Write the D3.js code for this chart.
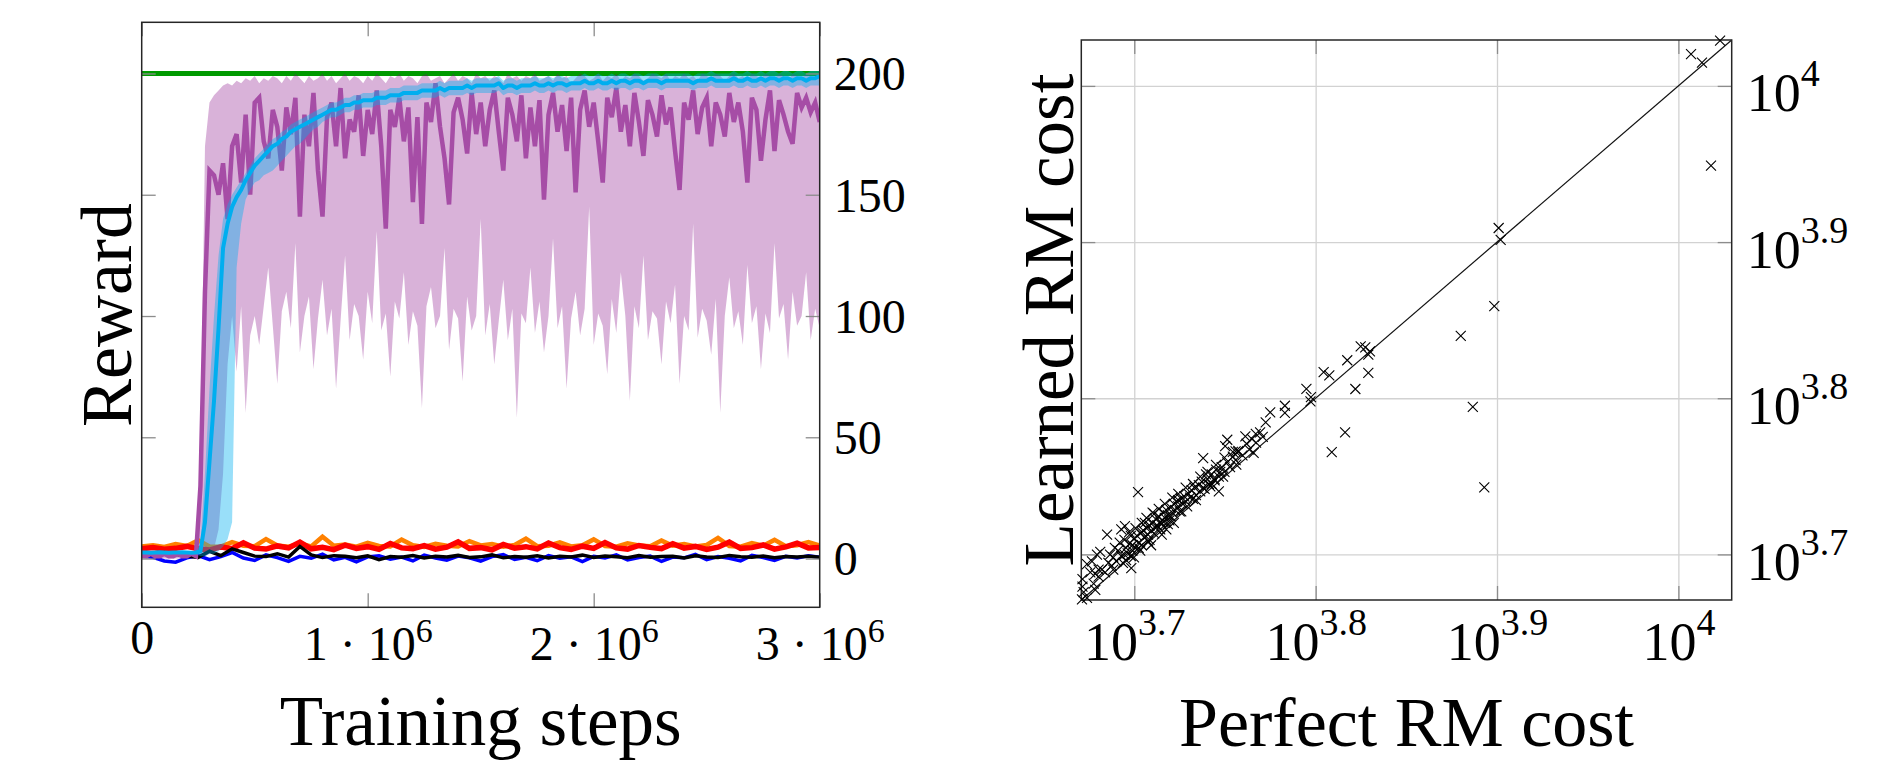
<!DOCTYPE html>
<html>
<head>
<meta charset="utf-8">
<script src="https://cdn.jsdelivr.net/npm/d3@7"></script>
<style>
  body { margin: 0; background: #fff; }
  svg { display: block; }
  text { font-family: "Liberation Serif", "Times New Roman", serif; fill: #000; }
</style>
</head>
<body>
<svg id="fig" width="1904" height="763"></svg>
<script>
// ---------------- Reward curves (sampled every 20 000 steps, 0 .. 3e6) ----------------
const rmMean = [
  1, 1, 2, 1, 1, 2, 1, 1, 2, 1,
  1, 2, 1, 30, 110, 160, 158, 150, 163, 140,
  170, 175, 155, 183, 150, 188, 190, 172, 165, 185,
  178, 160, 186, 175, 190, 141, 183, 170, 192, 160,
  141, 182, 188, 170, 194, 165, 181, 176, 191, 166,
  185, 175, 193, 170, 136, 185, 178, 190, 172, 186,
  147, 182, 138, 188, 180, 196, 178, 165, 146, 184,
  190, 181, 167, 192, 175, 188, 170, 185, 193, 176,
  160, 190, 183, 172, 191, 165, 186, 170, 189, 148,
  183, 192, 176, 187, 168, 190, 151, 185, 193, 178,
  188, 172, 155, 190, 182, 194, 176, 187, 170, 192,
  180, 166, 189, 183, 174, 191, 179, 186, 168, 152,
  188, 181, 193, 175, 186, 190, 170, 188, 183, 174,
  192, 180, 188, 176, 155, 190, 185, 164, 181, 193,
  168, 189, 183, 176, 171, 192, 186, 190, 184, 188,
  180
];
const rmHigh = [
  3, 3, 3, 3, 3, 3, 3, 3, 3, 3,
  3, 3, 3, 40, 170, 188, 191, 193, 195, 196,
  195, 197, 196, 198, 197, 199, 196, 198, 197, 199,
  198, 196, 199, 197, 200, 198, 196, 199, 197, 198,
  200, 197, 199, 196, 198, 200, 197, 199, 198, 196,
  199, 197, 200, 198, 196, 199, 198, 200, 197, 199,
  198, 196, 199, 200, 197, 198, 199, 196, 198, 200,
  197, 199, 198, 196, 200, 198, 199, 197, 199, 198,
  196, 200, 198, 199, 197, 199, 198, 200, 197, 198,
  199, 197, 200, 198, 199, 196, 198, 200, 199, 197,
  198, 200, 197, 199, 198, 200, 197, 199, 198, 200,
  199, 197, 198, 200, 199, 198, 200, 197, 199, 198,
  200, 198, 199, 197, 200, 199, 198, 200, 199, 197,
  199, 200, 198, 199, 197, 200, 199, 198, 200, 199,
  198, 200, 199, 197, 200, 199, 198, 200, 199, 198,
  199
];
const rmLow = [
  0, 0, 0, 0, 0, 0, 0, 0, 0, 0,
  0, 0, 0, 0, 1, 2, 4, 12, 35, 80,
  100, 77, 104, 60, 92, 100, 88, 104, 120, 96,
  72, 102, 110, 95, 130, 85, 100, 108, 78, 99,
  115, 92, 103, 70, 98, 125, 90, 105, 100, 82,
  110, 97, 135, 94, 101, 75, 106, 99, 118, 88,
  102, 96, 62, 104, 112, 95, 100, 128, 86, 103,
  99, 73, 108, 94, 100, 140, 92, 105, 80, 98,
  115, 90, 103, 58, 101, 97, 120, 93, 106, 85,
  100, 132, 95, 104, 70, 99, 110, 92, 103, 145,
  88, 101, 96, 76, 107, 93, 118, 100, 65, 104,
  95, 125, 90, 102, 99, 80, 106, 97, 113, 72,
  100, 94, 138, 91, 103, 98, 84, 107, 60, 100,
  116, 95, 102, 88, 121, 97, 104, 78, 101, 93,
  130, 99, 105, 82, 110, 96, 100, 118, 90, 103,
  95
];
const learnedMean = [
  2.5, 2.5, 2.4, 2.5, 2.6, 2.5, 2.4, 2.5, 2.5, 2.6,
  2.5, 2.4, 2.5, 3, 15, 40, 65, 95, 128, 138,
  145, 149, 152, 156, 159, 162, 164, 166, 168, 170,
  171, 173, 174, 176, 177, 178, 179, 180, 181, 182,
  183, 184, 185, 185, 186, 187, 187, 188, 188, 189,
  189, 189, 190, 190, 190, 191, 191, 191, 192, 192,
  192, 192, 193, 193, 193, 193, 194, 193, 194, 194,
  194, 194, 195, 194, 195, 195, 195, 195, 195, 196,
  194, 195, 195, 194, 195, 195, 195, 196, 195, 195,
  196, 195, 196, 196, 195, 196, 196, 196, 197, 196,
  196, 197, 196, 196, 197, 196, 197, 197, 196, 197,
  197, 196, 197, 197, 197, 196, 197, 197, 197, 197,
  197, 197, 196, 197, 197, 197, 198, 197, 197, 197,
  197, 198, 197, 197, 198, 197, 197, 198, 197, 198,
  198, 197, 198, 198, 197, 198, 198, 197, 198, 198,
  199
];
const learnedHigh = [
  3, 3, 3, 3, 3, 3, 3, 3, 3, 3,
  3, 3, 3, 6, 35, 70, 100, 125, 140, 146,
  150, 153, 156, 159, 162, 165, 167, 169, 171, 173,
  174, 176, 177, 179, 180, 181, 182, 183, 184, 185,
  186, 187, 188, 188, 189, 190, 190, 191, 191, 192,
  192, 192, 193, 193, 193, 194, 194, 194, 195, 195,
  195, 195, 196, 196, 196, 196, 197, 196, 197, 197,
  197, 197, 198, 197, 198, 198, 198, 198, 198, 199,
  197, 198, 198, 197, 198, 198, 198, 199, 198, 198,
  199, 198, 199, 199, 198, 199, 199, 199, 200, 199,
  199, 200, 199, 199, 200, 199, 200, 200, 199, 200,
  200, 199, 200, 200, 200, 199, 200, 200, 200, 200,
  200, 200, 199, 200, 200, 200, 201, 200, 200, 200,
  200, 201, 200, 200, 201, 200, 200, 201, 200, 201,
  201, 200, 201, 201, 200, 201, 201, 200, 201, 201,
  201
];
const learnedLow = [
  2, 2, 2, 2, 2, 2, 2, 2, 2, 2,
  2, 2, 2, 1, 1, 2, 2, 3, 5, 8,
  15, 120, 138, 148, 152, 155, 156, 158, 159, 160,
  162, 164, 166, 168, 170, 171, 173, 175, 177, 178,
  180, 181, 182, 182, 183, 184, 184, 185, 185, 186,
  186, 186, 187, 187, 187, 188, 188, 188, 189, 189,
  189, 189, 190, 190, 190, 190, 191, 190, 191, 191,
  191, 191, 192, 191, 192, 192, 192, 192, 192, 193,
  191, 192, 192, 191, 192, 192, 192, 193, 192, 192,
  193, 192, 193, 193, 192, 193, 193, 193, 194, 193,
  193, 194, 193, 193, 194, 193, 194, 194, 193, 194,
  194, 193, 194, 194, 194, 193, 194, 194, 194, 194,
  194, 194, 193, 194, 194, 194, 195, 194, 194, 194,
  194, 195, 194, 194, 195, 194, 194, 195, 194, 195,
  195, 194, 195, 195, 194, 195, 195, 194, 195, 195,
  195
];

// Baselines that never learn (sampled every 50 000 steps)
const redReward = [
  4, 4.5, 3.8, 4.2, 5, 4, 3.5, 4.8, 4.1, 6.5,
  4.3, 3.9, 5.2, 4.4, 6.8, 4, 4.6, 3.7, 5.5, 4.2,
  4.9, 3.8, 6.2, 4.4, 4.1, 5.3, 3.9, 4.7, 6.9, 4.2,
  4.5, 3.6, 5.8, 4.3, 4.9, 4, 6.4, 4.5, 3.8, 5.1,
  4.2, 6.6, 4.4, 3.9, 5.4, 4.6, 4.1, 6.1, 4.3, 5,
  3.8, 4.7, 6.8, 4.2, 4.5, 5.6, 3.9, 4.8, 6.3, 4.4, 4.6
];
const orangeReward = [
  5, 5.5, 4.8, 6, 5.2, 7.5, 5, 4.9, 6.8, 5.3,
  5.1, 8, 5.4, 4.9, 6.2, 5, 9, 5.3, 5.8, 4.9,
  6.5, 5.2, 5, 7.8, 5.5, 4.8, 6.1, 5.3, 5, 7.2,
  5.4, 6, 4.9, 5.6, 8.2, 5.1, 5.3, 6.7, 5, 5.5,
  7.9, 5.2, 4.9, 6.3, 5.4, 5.1, 7.4, 5.3, 6, 5,
  5.6, 8.5, 5.2, 4.9, 6.4, 5.3, 7.7, 5.1, 5.5, 6.8, 5.4
];
const blueReward = [
  1, 0.5, -1, -1.5, 0.3, 1.2, -0.5, 0.8, 2.5, 0.2,
  -0.8, 1.5, 0.4, -1.2, 0.9, 0.1, 1.8, -0.6, 0.5, -1.4,
  0.7, 1.1, -0.3, 0.6, -1, 1.4, 0.2, -0.7, 1, 0.3,
  -1.1, 0.8, 1.6, -0.4, 0.5, -0.9, 1.2, 0.1, 0.7, -1.3,
  0.9, 0.2, 1.5, -0.6, 0.4, 1, -1.2, 0.6, 0.3, 1.7,
  -0.5, 0.8, 0.1, -1, 1.3, 0.4, -0.8, 0.9, 0.2, 1.1, 0.5
];
const blackReward = [
  2, 1.5, 2.5, 1.8, 1, 0.5, 3, 1.2, 4, 2.5,
  1, 0.8, 2, 0.6, 5, 1.5, 0.4, 1.2, 0.9, 0.3,
  1.1, -0.5, 0.8, 0.5, 1.2, 0.2, 0.9, 0.6, 1.3, 0.4,
  0.7, 1.5, 0.3, 0.8, 0.5, 1.1, 0.2, 0.9, 0.6, 1.4,
  0.4, 1, 0.7, 0.3, 1.2, 0.5, 0.8, 0.9, 0.2, 1.1,
  0.6, 0.4, 1.3, 0.7, 0.5, 1, 0.3, 0.8, 0.6, 0.9, 0.5
];
const optimalSteps = [0, 3000000];
const optimalReward = [200, 200];

const stepTicks = [0, 1000000, 2000000, 3000000];
const rewardTicks = [0, 50, 100, 150, 200];

// ---------------- Cost comparison ----------------
const perfectCost = [
  10544, 10162, 10304, 10423, 7960, 7980, 7916, 7586, 7703, 7816,
  6550, 6440, 6636, 6746, 6746, 6681, 6720, 6760, 6568, 6374,
  6420, 6236, 6272, 6268, 6068, 6068, 5956, 5922, 5848, 5771,
  5832, 5640, 5625, 5700, 5720, 5470, 5705, 5590, 5550, 5490,
  5530, 5580, 5470, 5036, 4842, 4953, 4930, 4780, 4750, 4720,
  4800, 4790, 4770, 4740, 4693, 4693, 4770, 4993, 4700, 4720,
  4690, 4760, 4790, 4810, 4830, 4850, 4870, 4880, 4900, 4910,
  4930, 4940, 4960, 4970, 4980, 4990, 5000, 5010, 5020, 5030,
  5040, 5050, 5060, 5070, 5080, 5090, 5100, 5110, 5120, 5130,
  5140, 5150, 5160, 5170, 5180, 5190, 5200, 5210, 5220, 5230,
  5240, 5250, 5260, 5270, 5280, 5290, 5300, 5310, 5320, 5330,
  5340, 5350, 5360, 5370, 5380, 5390, 5400, 5410, 5420, 5440,
  5450, 5460, 5480, 5500, 5510, 5530, 5550, 5560, 5580, 5600,
  5620, 5640, 5660, 5680, 5700, 5720, 5750, 5780, 5800, 5820,
  5850, 5880, 5900, 4990, 5010, 5050, 5080, 5120, 5140, 5190,
  5220, 5270, 5060, 5100, 5150, 5200, 5250, 5300, 5000, 4950,
  4860, 4890, 4920, 4950, 4980, 5020, 5060, 5090, 5130, 5170,
  5210, 5260, 5300, 5350, 5400, 5450, 5500, 5560, 5620, 5680,
  4880, 4960, 5040, 5110, 5180, 5230, 5320, 5420, 5520, 5610
];
const learnedCost = [
  10690, 10480, 10350, 8892, 8110, 7970, 7228, 6918, 6230, 5533,
  6000, 5827, 6396, 6550, 6728, 6812, 6800, 6760, 6673, 6557,
  6525, 6398, 6320, 6280, 6240, 6174, 6180, 6088, 5987, 5965,
  5822, 5935, 5880, 5835, 5838, 5776, 5722, 5660, 5600, 5640,
  5560, 5500, 5530, 5494, 5160, 5225, 5200, 5010, 4960, 4940,
  5030, 4900, 4870, 4880, 4832, 4780, 4757, 4911, 4740, 4700,
  4690, 4800, 4850, 4900, 4880, 4950, 4930, 4990, 4960, 5040,
  5000, 4950, 5060, 5020, 5090, 5000, 5080, 5130, 5060, 5150,
  5100, 5170, 5080, 5190, 5140, 5210, 5160, 5230, 5190, 5250,
  5170, 5280, 5230, 5300, 5260, 5240, 5330, 5290, 5350, 5310,
  5270, 5370, 5330, 5400, 5350, 5420, 5380, 5340, 5440, 5400,
  5460, 5420, 5380, 5480, 5450, 5510, 5440, 5530, 5470, 5550,
  5500, 5580, 5520, 5600, 5560, 5640, 5590, 5680, 5620, 5700,
  5660, 5740, 5700, 5790, 5760, 5830, 5800, 5900, 5850, 5940,
  5910, 6000, 5960, 5150, 4990, 5040, 5250, 5080, 5320, 5160,
  5200, 5250, 5180, 5110, 5210, 5260, 5300, 5430, 5040, 5010,
  5010, 5060, 5100, 5120, 5180, 5210, 5250, 5290, 5330, 5360,
  5400, 5450, 5480, 5530, 5560, 5620, 5660, 5720, 5780, 5830,
  4900, 4970, 5060, 5120, 5200, 5240, 5340, 5430, 5540, 5620
];
const costTickExponents = ["3.7", "3.8", "3.9", "4"];

// ======================================================================
const svg = d3.select("#fig");
const defs = svg.append("defs");
const TICK = 14;

// ---------------- left panel: reward over training ----------------
const L = { left: 141.7, right: 819.7, top: 22.3, bottom: 607.3 };
const xL = d3.scaleLinear().domain([0, 3e6]).range([L.left, L.right]);
const yL = d3.scaleLinear().domain([-20.1, 221.1]).range([L.bottom, L.top]);

defs.append("clipPath").attr("id", "clipL").append("rect")
  .attr("x", L.left).attr("y", L.top)
  .attr("width", L.right - L.left).attr("height", L.bottom - L.top);

const fineSteps = d3.range(0, 3000001, 20000);
const coarseSteps = d3.range(0, 3000001, 50000);

const plotL = svg.append("g").attr("clip-path", "url(#clipL)");

const lineOn = steps => d3.line().x((d, i) => xL(steps[i])).y(d => yL(d));
const bandOn = steps => d3.area().x((d, i) => xL(steps[i]))
  .y0(d => yL(d[0])).y1(d => yL(d[1]));

// optimal reward
plotL.append("path").datum(optimalReward)
  .attr("d", lineOn(optimalSteps))
  .attr("fill", "none").attr("stroke", "#009a00").attr("stroke-width", 5);

// reward-machine agent: band then mean
plotL.append("path").datum(d3.zip(rmLow, rmHigh))
  .attr("d", bandOn(fineSteps))
  .attr("fill", "#800080").attr("fill-opacity", 0.3).attr("stroke", "none");

// non-learning baselines
const baselines = [
  { values: orangeReward, color: "#ff8000", width: 4.5 },
  { values: redReward, color: "#ff0000", width: 5.5 },
  { values: blueReward, color: "#0000ff", width: 3.5 },
  { values: blackReward, color: "#000000", width: 3.5 }
];
baselines.forEach(b => {
  plotL.append("path").datum(b.values)
    .attr("d", lineOn(coarseSteps))
    .attr("fill", "none").attr("stroke", b.color)
    .attr("stroke-width", b.width).attr("stroke-linejoin", "miter");
});

plotL.append("path").datum(rmMean)
  .attr("d", lineOn(fineSteps))
  .attr("fill", "none").attr("stroke", "#a64da6")
  .attr("stroke-width", 4.5).attr("stroke-linejoin", "miter");

// learned reward machine agent
plotL.append("path").datum(d3.zip(learnedLow, learnedHigh))
  .attr("d", bandOn(fineSteps))
  .attr("fill", "#00aeef").attr("fill-opacity", 0.4).attr("stroke", "none");
plotL.append("path").datum(learnedMean)
  .attr("d", lineOn(fineSteps))
  .attr("fill", "none").attr("stroke", "#00aeef")
  .attr("stroke-width", 4).attr("stroke-linejoin", "round");

// tick marks (inward on all four sides)
const tickColor = "#8c8c8c";
function styleTicks(g) {
  g.select(".domain").remove();
  g.attr("color", tickColor).selectAll("line").attr("stroke-width", 1.3);
  g.selectAll("text").remove();
}
svg.append("g").attr("transform", `translate(0,${L.bottom})`)
  .call(d3.axisBottom(xL).tickValues(stepTicks).tickSize(-TICK)).call(styleTicks);
svg.append("g").attr("transform", `translate(0,${L.top})`)
  .call(d3.axisTop(xL).tickValues(stepTicks).tickSize(-TICK)).call(styleTicks);
svg.append("g").attr("transform", `translate(${L.left},0)`)
  .call(d3.axisLeft(yL).tickValues(rewardTicks).tickSize(-TICK)).call(styleTicks);
svg.append("g").attr("transform", `translate(${L.right},0)`)
  .call(d3.axisRight(yL).tickValues(rewardTicks).tickSize(-TICK)).call(styleTicks);

// frame
svg.append("rect").attr("x", L.left).attr("y", L.top)
  .attr("width", L.right - L.left).attr("height", L.bottom - L.top)
  .attr("fill", "none").attr("stroke", "#262626").attr("stroke-width", 1.5);

// tick labels
const yLabAxis = svg.append("g").attr("transform", `translate(${L.right},0)`)
  .call(d3.axisRight(yL).tickValues(rewardTicks).tickSize(0).tickPadding(14));
yLabAxis.select(".domain").remove();
yLabAxis.selectAll("text")
  .attr("font-family", "Liberation Serif, serif").attr("font-size", 48)
  .attr("dy", "0.34em").attr("fill", "#000");

function powerText(sel, lead, exp, supSize, raise) {
  sel.text(null);
  sel.append("tspan").text(lead);
  if (exp) sel.append("tspan").attr("font-size", supSize).attr("dy", -raise).text(exp);
}

const xLabAxis = svg.append("g").attr("transform", `translate(0,${L.bottom})`)
  .call(d3.axisBottom(xL).tickValues(stepTicks).tickSize(0));
xLabAxis.select(".domain").remove();
xLabAxis.selectAll("text")
  .attr("font-family", "Liberation Serif, serif").attr("font-size", 48)
  .attr("fill", "#000").attr("dy", null)
  .attr("y", d => d === 0 ? 47 : 53)
  .each(function (d) {
    const m = d / 1e6;
    if (m === 0) powerText(d3.select(this), "0", null);
    else powerText(d3.select(this), `${m} · 10`, "6", 34, 18);
  });

svg.append("text").attr("transform", `translate(131,315) rotate(-90)`)
  .attr("text-anchor", "middle").attr("font-size", 72).text("Reward");
svg.append("text").attr("x", (L.left + L.right) / 2).attr("y", 745)
  .attr("text-anchor", "middle").attr("font-size", 71).text("Training steps");

// ---------------- right panel: learned vs perfect reward-machine cost ----------------
const R = { left: 1081.3, right: 1731.7, top: 40, bottom: 600 };
const costDomain = [Math.pow(10, 3.6708), Math.pow(10, 4.0294)];
const xR = d3.scaleLog().domain(costDomain).range([R.left, R.right]);
const yR = d3.scaleLog().domain(costDomain).range([R.bottom, R.top]);
const costTicks = costTickExponents.map(e => Math.pow(10, +e));

// grid
const gridX = svg.append("g").attr("transform", `translate(0,${R.bottom})`)
  .call(d3.axisBottom(xR).tickValues(costTicks).tickSize(-(R.bottom - R.top)).tickFormat(""));
const gridY = svg.append("g").attr("transform", `translate(${R.left},0)`)
  .call(d3.axisLeft(yR).tickValues(costTicks).tickSize(-(R.right - R.left)).tickFormat(""));
[gridX, gridY].forEach(g => {
  g.select(".domain").remove();
  g.attr("color", "#d2d2d2").selectAll("line").attr("stroke-width", 1.3);
});

// inward tick marks
svg.append("g").attr("transform", `translate(0,${R.bottom})`)
  .call(d3.axisBottom(xR).tickValues(costTicks).tickSize(-TICK)).call(styleTicks);
svg.append("g").attr("transform", `translate(0,${R.top})`)
  .call(d3.axisTop(xR).tickValues(costTicks).tickSize(-TICK)).call(styleTicks);
svg.append("g").attr("transform", `translate(${R.left},0)`)
  .call(d3.axisLeft(yR).tickValues(costTicks).tickSize(-TICK)).call(styleTicks);
svg.append("g").attr("transform", `translate(${R.right},0)`)
  .call(d3.axisRight(yR).tickValues(costTicks).tickSize(-TICK)).call(styleTicks);

// identity line
svg.append("path").datum(costDomain)
  .attr("d", d3.line().x(d => xR(d)).y(d => yR(d)))
  .attr("fill", "none").attr("stroke", "#111").attr("stroke-width", 1.2);

// frame
svg.append("rect").attr("x", R.left).attr("y", R.top)
  .attr("width", R.right - R.left).attr("height", R.bottom - R.top)
  .attr("fill", "none").attr("stroke", "#262626").attr("stroke-width", 1.5);

// cross markers
svg.append("g").selectAll("path")
  .data(d3.zip(perfectCost, learnedCost))
  .join("path")
  .attr("transform", d => `translate(${xR(d[0])},${yR(d[1])})`)
  .attr("d", "M-5,-5L5,5M-5,5L5,-5")
  .attr("fill", "none").attr("stroke", "#000").attr("stroke-width", 1.1);

// tick labels
const xRLab = svg.append("g").attr("transform", `translate(0,${R.bottom})`)
  .call(d3.axisBottom(xR).tickValues(costTicks).tickSize(0));
xRLab.select(".domain").remove();
xRLab.selectAll("text")
  .attr("font-family", "Liberation Serif, serif").attr("font-size", 54)
  .attr("fill", "#000").attr("dy", null).attr("y", 60)
  .each(function (d, i) { powerText(d3.select(this), "10", costTickExponents[i], 38, 25); });

const yRLab = svg.append("g").attr("transform", `translate(${R.right},0)`)
  .call(d3.axisRight(yR).tickValues(costTicks).tickSize(0).tickPadding(15));
yRLab.select(".domain").remove();
yRLab.selectAll("text")
  .attr("font-family", "Liberation Serif, serif").attr("font-size", 54)
  .attr("fill", "#000").attr("dy", null).attr("y", 25)
  .each(function (d, i) { powerText(d3.select(this), "10", costTickExponents[i], 38, 25); });

svg.append("text").attr("transform", `translate(1073,${(R.top + R.bottom) / 2}) rotate(-90)`)
  .attr("text-anchor", "middle").attr("font-size", 71).text("Learned RM cost");
svg.append("text").attr("x", (R.left + R.right) / 2).attr("y", 746)
  .attr("text-anchor", "middle").attr("font-size", 70).text("Perfect RM cost");
</script>
</body>
</html>
